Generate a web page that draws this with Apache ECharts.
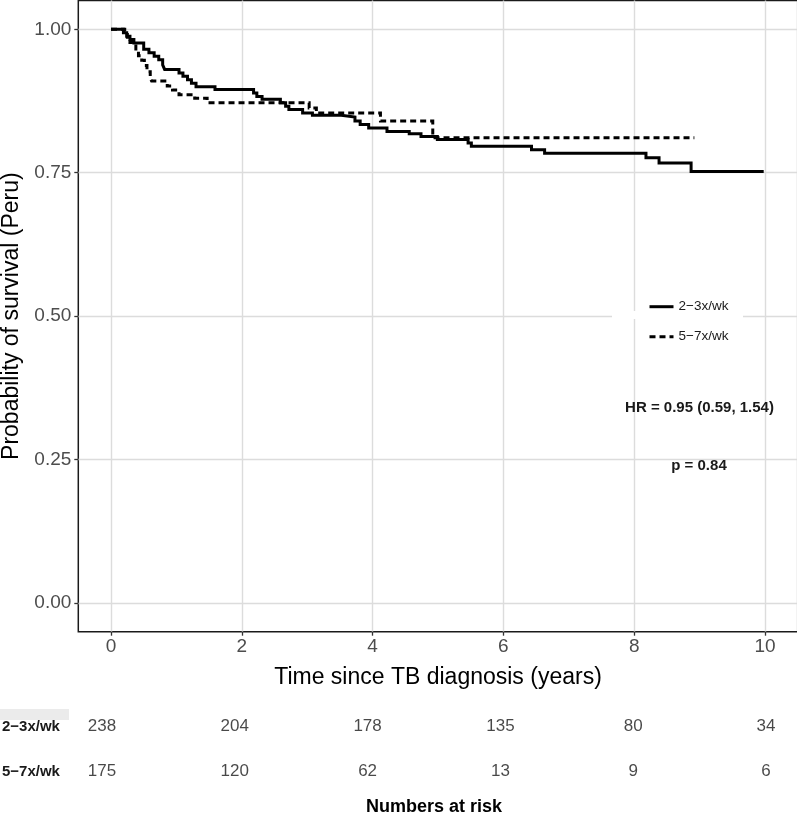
<!DOCTYPE html>
<html>
<head>
<meta charset="utf-8">
<script src="https://cdn.jsdelivr.net/npm/echarts@6/dist/echarts.min.js"></script>
<style>
html,body{margin:0;padding:0;background:#fff;}
#c{width:797px;height:814px;}
</style>
</head>
<body>
<div id="c"></div>
<script>
// ---- data ----
var seriesNames = ['2\u22123x/wk', '5\u22127x/wk'];
var solidTimes = [0, 0.19, 0.24, 0.29, 0.35, 0.50, 0.58, 0.66, 0.73, 0.79, 0.82, 1.04, 1.10, 1.17, 1.23, 1.30, 1.59, 2.18, 2.23, 2.31, 2.59, 2.67, 2.72, 2.93, 3.08, 3.52, 3.73, 3.81, 3.94, 4.22, 4.56, 4.74, 4.99, 5.46, 5.51, 6.43, 6.63, 8.18, 8.38, 8.87, 9.98];
var solidSurv  = [1.000, 0.994, 0.988, 0.982, 0.976, 0.965, 0.959, 0.953, 0.947, 0.938, 0.930, 0.924, 0.918, 0.912, 0.906, 0.900, 0.895, 0.889, 0.883, 0.878, 0.872, 0.866, 0.860, 0.854, 0.850, 0.847, 0.840, 0.834, 0.828, 0.822, 0.818, 0.813, 0.808, 0.802, 0.796, 0.790, 0.784, 0.776, 0.767, 0.752, 0.752];
var dashTimes = [0, 0.21, 0.25, 0.29, 0.33, 0.38, 0.42, 0.47, 0.51, 0.55, 0.60, 0.62, 0.86, 0.94, 1.04, 1.28, 1.47, 3.03, 3.14, 4.12, 4.92, 8.92];
var dashSurv  = [1.000, 0.994, 0.986, 0.977, 0.971, 0.963, 0.954, 0.946, 0.937, 0.926, 0.914, 0.910, 0.901, 0.894, 0.886, 0.880, 0.872, 0.863, 0.854, 0.840, 0.811, 0.811];
var xTicks = [0, 2, 4, 6, 8, 10];
var yTicks = [0, 0.25, 0.5, 0.75, 1];
var riskTimes = [0, 2, 4, 6, 8, 10];
var risk23 = [238, 204, 178, 135, 80, 34];
var risk57 = [175, 120, 62, 13, 9, 6];
var hrText = 'HR = 0.95 (0.59, 1.54)';
var pText = 'p = 0.84';

function pairs(t, s) { return t.map(function (v, i) { return [v, s[i]]; }); }
function riskPts(vals, row) { return riskTimes.map(function (t, i) { return [t, row, vals[i]]; }); }

var chart = echarts.init(document.getElementById('c'), null, {renderer: 'canvas'});
var FONT = 'Liberation Sans, Arial, Helvetica, sans-serif';

chart.setOption({
  animation: false,
  backgroundColor: '#ffffff',
  textStyle: {fontFamily: FONT},
  grid: [
    {left: 78.3, right: -0.7, top: 0.6, bottom: 182.3, show: true, borderColor: '#1a1a1a', borderWidth: 1.5, backgroundColor: '#ffffff', containLabel: false, outerBoundsMode: 'none'},
    {left: 102, right: 31, top: 704, height: 90, show: false, containLabel: false, outerBoundsMode: 'none'}
  ],
  xAxis: [
    {
      type: 'value', gridIndex: 0, min: -0.5, max: 10.5,
      name: 'Time since TB diagnosis (years)', nameLocation: 'middle', nameGap: 34,
      nameTextStyle: {fontSize: 23, color: '#000', fontFamily: FONT},
      axisLine: {show: false, onZero: false},
      axisTick: {show: true, length: 4, customValues: xTicks, lineStyle: {color: '#333', width: 1.3}},
      axisLabel: {customValues: xTicks, fontSize: 19, color: '#4d4d4d', margin: 6, fontFamily: FONT},
      splitLine: {show: true, lineStyle: {color: '#dcdcdc', width: 1.4}}
    },
    {
      type: 'value', gridIndex: 1, min: 0, max: 10,
      name: 'Numbers at risk', nameLocation: 'middle', nameGap: 4,
      nameTextStyle: {fontSize: 18, fontWeight: 'bold', color: '#000', fontFamily: FONT},
      axisLine: {show: false, onZero: false}, axisTick: {show: false}, axisLabel: {show: false}, splitLine: {show: false}
    }
  ],
  yAxis: [
    {
      type: 'value', gridIndex: 0, min: -0.05, max: 1.05,
      name: 'Probability of survival (Peru)', nameLocation: 'middle', nameGap: 49, nameRotate: 90,
      nameTextStyle: {fontSize: 23, color: '#000', fontFamily: FONT},
      axisLine: {show: false, onZero: false},
      axisTick: {show: true, length: 4, customValues: yTicks, lineStyle: {color: '#333', width: 1.3}},
      axisLabel: {customValues: yTicks, fontSize: 19, color: '#4d4d4d', margin: 7, fontFamily: FONT,
        formatter: function (v) { return v.toFixed(2); }},
      splitLine: {show: true, lineStyle: {color: '#dcdcdc', width: 1.4}}
    },
    {
      type: 'category', gridIndex: 1, inverse: true, data: seriesNames,
      axisLine: {show: false, onZero: false}, axisTick: {show: false}, splitLine: {show: false},
      axisLabel: {show: true, align: 'left', margin: 100, fontSize: 15, fontWeight: 'bold', color: '#1a1a1a', fontFamily: FONT}
    }
  ],
  legend: {
    data: seriesNames, orient: 'vertical', left: 648, top: 299.7,
    itemWidth: 24, itemHeight: 14, itemGap: 16,
    itemStyle: {opacity: 0, borderWidth: 0},
    lineStyle: {width: 3},
    textStyle: {fontSize: 13.5, color: '#1a1a1a', fontFamily: FONT},
    backgroundColor: 'transparent', padding: 0
  },
  series: [
    {
      name: seriesNames[0], type: 'line', xAxisIndex: 0, yAxisIndex: 0, step: 'end', symbol: 'none',
      data: pairs(solidTimes, solidSurv),
      lineStyle: {color: '#000', width: 3, cap: 'butt', join: 'miter'},
      itemStyle: {color: '#000'}, z: 3
    },
    {
      name: seriesNames[1], type: 'line', xAxisIndex: 0, yAxisIndex: 0, step: 'end', symbol: 'none',
      data: pairs(dashTimes, dashSurv),
      lineStyle: {color: '#000', width: 3, type: [6, 4], cap: 'butt', join: 'miter'},
      itemStyle: {color: '#000'}, z: 3
    },
    {
      name: 'risk1', type: 'scatter', xAxisIndex: 1, yAxisIndex: 1, symbolSize: 0,
      data: riskPts(risk23, seriesNames[0]),
      label: {show: true, position: 'inside', formatter: function (p) { return String(p.value[2]); },
        fontSize: 17, color: '#1a1a1a', fontFamily: FONT}
    },
    {
      name: 'risk2', type: 'scatter', xAxisIndex: 1, yAxisIndex: 1, symbolSize: 0,
      data: riskPts(risk57, seriesNames[1]),
      label: {show: true, position: 'inside', formatter: function (p) { return String(p.value[2]); },
        fontSize: 17, color: '#1a1a1a', fontFamily: FONT}
    }
  ],
  graphic: [
    {type: 'rect', left: 612, top: 311, shape: {width: 131, height: 8}, style: {fill: '#ffffff'}, z: 1, silent: true},
    {type: 'text', x: 699.5, y: 408, style: {text: hrText, fontSize: 15, fontWeight: 'bold', fill: '#1a1a1a', textAlign: 'center', textVerticalAlign: 'middle', fontFamily: FONT}, z: 10},
    {type: 'text', x: 699, y: 466, style: {text: pText, fontSize: 15, fontWeight: 'bold', fill: '#1a1a1a', textAlign: 'center', textVerticalAlign: 'middle', fontFamily: FONT}, z: 10},
    {type: 'rect', left: 0, top: 709, shape: {width: 69, height: 11}, style: {fill: '#ebebeb'}, z: -1, silent: true}
  ]
});
</script>
</body>
</html>
